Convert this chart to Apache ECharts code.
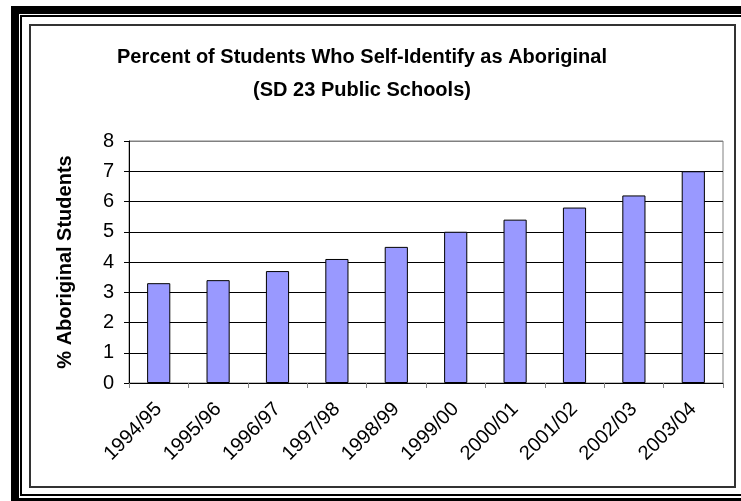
<!DOCTYPE html>
<html>
<head>
<meta charset="utf-8">
<script src="https://cdn.jsdelivr.net/npm/echarts@6/dist/echarts.min.js"></script>
<style>
html,body{margin:0;padding:0;background:#fff;}
#c{width:741px;height:501px;}
</style>
</head>
<body>
<div id="c"></div>
<script>
var categories = ['1994/95','1995/96','1996/97','1997/98','1998/99','1999/00','2000/01','2001/02','2002/03','2003/04'];
var percentAboriginal = [3.3, 3.4, 3.7, 4.1, 4.5, 5.0, 5.4, 5.8, 6.2, 7.0];
var yTicks = [0, 1, 2, 3, 4, 5, 6, 7, 8];
var titleText = 'Percent of Students Who Self-Identify as Aboriginal\n(SD 23 Public Schools)';
var yAxisName = '% Aboriginal Students';

var FONT = '"Liberation Sans", Arial, sans-serif';
var chart = echarts.init(document.getElementById('c'), null, {renderer: 'canvas'});
chart.setOption({
  backgroundColor: '#ffffff',
  animation: false,
  title: {
    text: titleText,
    left: 362,
    top: 41,
    padding: 0,
    textAlign: 'center',
    textStyle: {fontFamily: FONT, fontSize: 20, fontWeight: 'bold', color: '#000', lineHeight: 33}
  },
  graphic: [
    {type: 'rect', shape: {x: 11, y: 6, width: 730, height: 8}, style: {fill: '#000'}, silent: true},
    {type: 'rect', shape: {x: 11, y: 6, width: 8, height: 495}, style: {fill: '#000'}, silent: true},
    {type: 'rect', shape: {x: 11, y: 498, width: 730, height: 3}, style: {fill: '#000'}, silent: true},
    {type: 'rect', shape: {x: 20, y: 15, width: 721, height: 2}, style: {fill: '#000'}, silent: true},
    {type: 'rect', shape: {x: 20, y: 15, width: 2, height: 481}, style: {fill: '#000'}, silent: true},
    {type: 'rect', shape: {x: 20, y: 494, width: 721, height: 2}, style: {fill: '#000'}, silent: true},
    {type: 'rect', shape: {x: 30, y: 25, width: 705, height: 462}, style: {fill: null, stroke: '#333', lineWidth: 2}, silent: true}
  ],
  grid: {
    left: 129, top: 141, right: 18, bottom: 118,
    show: true, borderColor: '#808080', borderWidth: 1, backgroundColor: 'transparent'
  },
  xAxis: {
    type: 'category',
    data: categories,
    axisLine: {show: true, lineStyle: {color: '#000', width: 1}},
    axisTick: {show: true, alignWithLabel: false, length: 5, lineStyle: {color: '#808080'}},
    axisLabel: {interval: 0, rotate: 45, margin: 23, fontFamily: FONT, fontSize: 20, color: '#000'},
    splitLine: {show: false}
  },
  yAxis: {
    type: 'value',
    min: yTicks[0],
    max: yTicks[yTicks.length - 1],
    interval: 1,
    name: yAxisName,
    nameLocation: 'middle',
    nameRotate: 90,
    nameGap: 54,
    nameTextStyle: {fontFamily: FONT, fontSize: 20, fontWeight: 'bold', color: '#000'},
    axisLine: {show: true, lineStyle: {color: '#000', width: 1}},
    axisTick: {show: true, inside: false, length: 5, lineStyle: {color: '#000'}},
    axisLabel: {margin: 15, fontFamily: FONT, fontSize: 20, color: '#000'},
    splitLine: {show: true, lineStyle: {color: ['#000','#000','#000','#000','#000','#000','#000','#000','#808080'], width: 1}}
  },
  series: [{
    type: 'bar',
    data: percentAboriginal,
    barWidth: '39%',
    itemStyle: {color: '#9999FF', borderColor: '#000', borderWidth: 1}
  }]
});
</script>
</body>
</html>
